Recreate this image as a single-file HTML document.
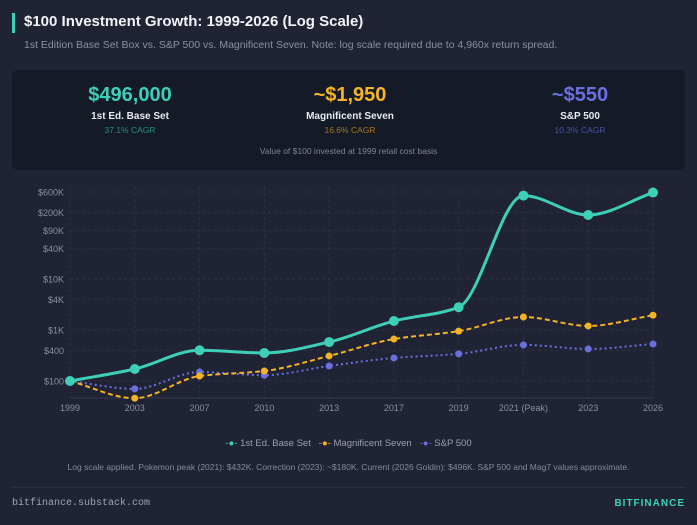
<!DOCTYPE html>
<html><head><meta charset="utf-8"><style>
body{margin:0;width:697px;height:525px;background:#1f2333;font-family:"Liberation Sans",sans-serif;position:relative;overflow:hidden}
.abs{position:absolute}
</style></head><body>
<div class="abs" style="left:12px;top:13px;width:3px;height:20px;background:#3ecfb8"></div>
<div class="abs" style="left:24px;top:13px;font-size:15px;font-weight:bold;color:#f2f4f8">$100 Investment Growth: 1999-2026 (Log Scale)</div>
<div class="abs" style="left:24px;top:39px;font-size:10.5px;color:#8a90a0">1st Edition Base Set Box vs. S&amp;P 500 vs. Magnificent Seven. Note: log scale required due to 4,960x return spread.</div>
<div class="abs" style="left:12px;top:70px;width:673px;height:100px;background:#141a26;border-radius:6px">
 <div class="abs" style="left:48px;top:14px;width:140px;text-align:center">
  <div style="font-size:20px;font-weight:bold;color:#3ecfb8">$496,000</div>
  <div style="font-size:10px;font-weight:bold;color:#e8eaef;margin-top:4px">1st Ed. Base Set</div>
  <div style="font-size:8.5px;color:#2c8f82;margin-top:3px">37.1% CAGR</div></div>
 <div class="abs" style="left:268px;top:14px;width:140px;text-align:center">
  <div style="font-size:20px;font-weight:bold;color:#f5b325">~$1,950</div>
  <div style="font-size:10px;font-weight:bold;color:#e8eaef;margin-top:4px">Magnificent Seven</div>
  <div style="font-size:8.5px;color:#a87a1c;margin-top:3px">16.6% CAGR</div></div>
 <div class="abs" style="left:498px;top:14px;width:140px;text-align:center">
  <div style="font-size:20px;font-weight:bold;color:#6b70e0">~$550</div>
  <div style="font-size:10px;font-weight:bold;color:#e8eaef;margin-top:4px">S&amp;P 500</div>
  <div style="font-size:8.5px;color:#4b4fa8;margin-top:3px">10.3% CAGR</div></div>
 <div class="abs" style="left:0;top:76px;width:673px;text-align:center;font-size:8.5px;color:#7f8594">Value of $100 invested at 1999 retail cost basis</div>
</div>
<svg class="abs" style="left:0;top:0" width="697" height="525" id="chart"></svg>
<div class="abs" style="left:0;top:438px;width:697px;text-align:center;font-size:9.5px;color:#9aa0ae">
 <span><span style="color:#3ecfb8">-●-</span> 1st Ed. Base Set</span>&nbsp;&nbsp;
 <span><span style="color:#f5b325">-●-</span> Magnificent Seven</span>&nbsp;&nbsp;
 <span><span style="color:#6b70e0">-●-</span> S&amp;P 500</span></div>
<div class="abs" style="left:0;top:462px;width:697px;text-align:center;font-size:8.5px;color:#858b99">Log scale applied. Pokemon peak (2021): $432K. Correction (2023): ~$180K. Current (2026 Goldin): $496K. S&amp;P 500 and Mag7 values approximate.</div>
<div class="abs" style="left:12px;top:487px;width:673px;height:1px;background:#2c3142"></div>
<div class="abs" style="left:12px;top:498px;font-family:'Liberation Mono',monospace;font-size:10px;color:#a0a6b3">bitfinance.substack.com</div>
<div class="abs" style="right:12px;top:498px;font-size:10px;font-weight:bold;letter-spacing:1px;color:#3ecfb8">BITFINANCE</div>
<script>
const categories=["1999","2003","2007","2010","2013","2017","2019","2021 (Peak)","2023","2026"];
const pokemon=[100,172,400,355,580,1500,2800,432000,180000,496000];
const mag7=[100,46,125,157,310,665,950,1800,1200,1950];
const sp500=[100,70,150,130,197,283,340,510,425,530];
const tickValues=[600000,200000,90000,40000,10000,4000,1000,400,100];
const tickLabels=["$600K","$200K","$90K","$40K","$10K","$4K","$1K","$400","$100"];
const svg=document.getElementById('chart');const NS='http://www.w3.org/2000/svg';
const X0=70,X1=653;
function x(i){return X0+i*(X1-X0)/(categories.length-1);}
function y(v){return 381-(Math.log10(v)-2)*51;}
function mk(t,a){const e=document.createElementNS(NS,t);for(const k in a)e.setAttribute(k,a[k]);svg.appendChild(e);return e;}
tickValues.forEach((v,i)=>{
 const yy=Math.max(y(v),192);
 const g=mk('line',{x1:X0,x2:X1,y1:yy,y2:yy,stroke:'#2c3244','stroke-dasharray':'3,3','stroke-width':1});
 
 const t=mk('text',{x:64,y:yy+3.5,'text-anchor':'end','font-size':9,fill:'#8a90a0'});t.textContent=tickLabels[i];
 
});
categories.forEach((c,i)=>{
 const g=mk('line',{x1:x(i),x2:x(i),y1:187,y2:398,stroke:'#2c3244','stroke-dasharray':'3,3','stroke-width':1});
 
 const t=mk('text',{x:x(i),y:411,'text-anchor':'middle','font-size':9,fill:'#8a90a0'});t.textContent=c;
 
});
const ax=mk('line',{x1:X0,x2:X1,y1:398,y2:398,stroke:'#343a4d'});

function path(vals){
 const p=vals.map((v,i)=>[x(i),y(v)]);const n=p.length;
 const s=[];for(let i=0;i<n-1;i++)s.push((p[i+1][1]-p[i][1])/(p[i+1][0]-p[i][0]));
 const m=[s[0]];
 for(let i=1;i<n-1;i++){m.push(s[i-1]*s[i]<=0?0:2/(1/s[i-1]+1/s[i]));}
 m.push(s[n-2]);
 let d='M'+p[0];
 for(let i=0;i<n-1;i++){const h=(p[i+1][0]-p[i][0])/3;
  d+=' C'+(p[i][0]+h)+','+(p[i][1]+m[i]*h)+' '+(p[i+1][0]-h)+','+(p[i+1][1]-m[i+1]*h)+' '+p[i+1][0]+','+p[i+1][1];}
 return d;}
function series(vals,color,dash,w,r,name){
 const l=mk('path',{d:path(vals),fill:'none',stroke:color,'stroke-width':w,'stroke-dasharray':dash});
 
 vals.forEach((v,i)=>{const c=mk('circle',{cx:x(i),cy:y(v),r:r,fill:color});
 });
}
series(sp500,'#6b70e0','2,3',2,3.5,'sp500');
series(mag7,'#f5b325','5,3',2,3.5,'mag7');
series(pokemon,'#3ecfb8','none',3,5,'pokemon');
</script>
</body></html>
